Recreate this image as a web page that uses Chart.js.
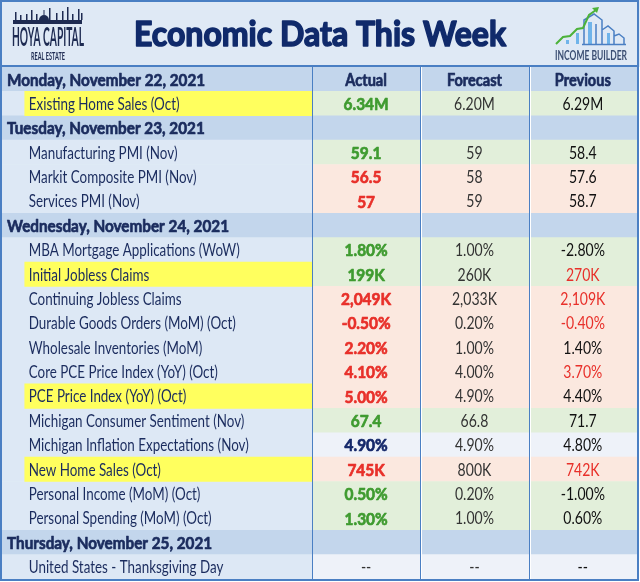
<!DOCTYPE html>
<html>
<head>
<meta charset="utf-8">
<script src="https://cdn.jsdelivr.net/npm/chart.js@4"></script>
<style>
  html, body { margin: 0; padding: 0; background: #fff; }
  canvas { display: block; }
</style>
</head>
<body>
<canvas id="econTable" width="640" height="582"></canvas>
<script>
// table rows, top to bottom
const rowLabels = [
  "Monday, November 22, 2021",
  "Existing Home Sales (Oct)",
  "Tuesday, November 23, 2021",
  "Manufacturing PMI (Nov)",
  "Markit Composite PMI (Nov)",
  "Services PMI (Nov)",
  "Wednesday, November 24, 2021",
  "MBA Mortgage Applications (WoW)",
  "Initial Jobless Claims",
  "Continuing Jobless Claims",
  "Durable Goods Orders (MoM) (Oct)",
  "Wholesale Inventories (MoM)",
  "Core PCE Price Index (YoY) (Oct)",
  "PCE Price Index (YoY) (Oct)",
  "Michigan Consumer Sentiment (Nov)",
  "Michigan Inflation Expectations (Nov)",
  "New Home Sales (Oct)",
  "Personal Income (MoM) (Oct)",
  "Personal Spending (MoM) (Oct)",
  "Thursday, November 25, 2021",
  "United States - Thanksgiving Day"
];
const rowKinds = ["day","item","day","item","item","item","day","item","item","item","item",
  "item","item","item","item","item","item","item","item","day","item"];
const highlighted = [false,true,false,false,false,false,false,false,true,false,false,
  false,false,true,false,false,true,false,false,false,false];
// beat / miss / flat vs forecast
const rowStatus = ["", "up", "", "up", "down", "down", "", "up", "up", "down", "down",
  "down", "down", "down", "up", "flat", "down", "up", "up", "", "flat"];

const columnHeaders = ["Actual", "Forecast", "Previous"];
const actual = ["", "6.34M", "", "59.1", "56.5", "57", "", "1.80%", "199K", "2,049K", "-0.50%",
  "2.20%", "4.10%", "5.00%", "67.4", "4.90%", "745K", "0.50%", "1.30%", "", "--"];
const forecast = ["", "6.20M", "", "59", "58", "59", "", "1.00%", "260K", "2,033K", "0.20%",
  "1.00%", "4.00%", "4.90%", "66.8", "4.90%", "800K", "0.20%", "1.00%", "", "--"];
const previous = ["", "6.29M", "", "58.4", "57.6", "58.7", "", "-2.80%", "270K", "2,109K", "-0.40%",
  "1.40%", "3.70%", "4.40%", "71.7", "4.80%", "742K", "-1.00%", "0.60%", "", "--"];
const previousRed = [false,false,false,false,false,false,false,false,true,true,true,
  false,true,false,false,false,true,false,false,false,false];

// column boundaries in value-column units (label column is wider)
const colEdges = [0, 2.86, 3.86, 4.86, 5.86];
const highlightStart = 0.21;

const navy = "#1b2c5e";
const cellColors = { up: "#e2efda", down: "#fbe8df", flat: "#eef2f9" };
const textColors = { up: "#3f9b30", down: "#e8302a", flat: "#15286a" };
const dayBg = "#c3d6ec";
const labelBg = "#dde8f5";
const lineBlue = "#4a7fc3";
const face = 'Lato, "Open Sans", sans-serif';

function cellColor(i) {
  return rowKinds[i] === "day" ? dayBg : cellColors[rowStatus[i]];
}

function columnData(k) {
  return rowLabels.map(() => [colEdges[k], colEdges[k + 1]]);
}

// horizontal squeeze so a sample string gets the width it has in the picture
function squeeze(ctx, font, sample, width) {
  ctx.font = font;
  return width / ctx.measureText(sample).width;
}

// heavy > 0 thickens the glyphs with a stroke in the same colour
function drawText(ctx, text, x, y, font, sx, align, heavy) {
  ctx.save();
  ctx.font = font;
  ctx.textAlign = align;
  ctx.translate(x, y);
  ctx.scale(sx, 1);
  ctx.fillText(text, 0, 0);
  if (heavy) {
    ctx.strokeStyle = ctx.fillStyle;
    ctx.lineWidth = heavy;
    ctx.lineJoin = "round";
    ctx.strokeText(text, 0, 0);
  }
  ctx.restore();
}

// first dataset is painted last, so the highlight goes first
const datasets = [
  {
    data: highlighted.map(h => h ? [highlightStart, colEdges[1]] : null),
    backgroundColor: "#ffff5e"
  },
  {
    data: columnData(0),
    backgroundColor: rowKinds.map(k => k === "day" ? dayBg : labelBg)
  },
  { data: columnData(1), backgroundColor: rowLabels.map((_, i) => cellColor(i)) },
  { data: columnData(2), backgroundColor: rowLabels.map((_, i) => cellColor(i)) },
  { data: columnData(3), backgroundColor: rowLabels.map((_, i) => cellColor(i)) }
];

// title band + logos
const bannerPlugin = {
  id: "banner",
  beforeDraw(chart) {
    const ctx = chart.ctx;
    ctx.save();
    ctx.fillStyle = "#dfe9f5";
    ctx.fillRect(0, 0, 640, 67);
    ctx.textBaseline = "alphabetic";

    ctx.fillStyle = "#102a6b";
    let f = "bold 35px " + face;
    drawText(ctx, "Economic Data This Week", 320, 46, f, squeeze(ctx, f, "Economic Data This Week", 372), "center", 1.6);

    // Hoya Capital logo
    ctx.fillStyle = "#1e2b52";
    ctx.fillRect(13, 20, 69, 4);
    const spires = [[15, 8], [20, 5], [26, 6], [31, 10], [36, 6], [49, 12], [56, 7], [62, 9], [67, 13], [72, 6], [78, 11], [81, 7]];
    spires.forEach(([x, h]) => ctx.fillRect(x, 20 - h, 1.5, h));
    ctx.beginPath();
    ctx.arc(44, 20, 5, Math.PI, 0);
    ctx.fill();
    ctx.fillRect(43.5, 10, 1, 5);
    f = "bold 26px " + face;
    drawText(ctx, "HOYA CAPITAL", 48, 46, f, squeeze(ctx, f, "HOYA CAPITAL", 72), "center");
    f = "bold 12px " + face;
    drawText(ctx, "REAL ESTATE", 48, 60, f, squeeze(ctx, f, "REAL ESTATE", 34), "center");

    // Income Builder logo
    ctx.fillStyle = "#6fb4ea";
    ctx.fillRect(566, 40, 3, 4);
    ctx.fillRect(576, 33, 3, 11);
    ctx.fillRect(588, 22, 4, 22);
    ctx.fillRect(607, 33, 3, 11);
    ctx.strokeStyle = "#4a7fc3";
    ctx.lineWidth = 1.5;
    ctx.beginPath();
    ctx.moveTo(584, 44); ctx.lineTo(584, 20); ctx.lineTo(594, 14); ctx.lineTo(602, 20); ctx.lineTo(602, 44);
    ctx.moveTo(596, 44); ctx.lineTo(596, 24);
    ctx.moveTo(602, 30); ctx.lineTo(608, 26); ctx.lineTo(614, 31); ctx.lineTo(614, 44);
    ctx.moveTo(614, 36); ctx.lineTo(619, 34); ctx.lineTo(624, 38); ctx.lineTo(624, 44);
    ctx.moveTo(582, 44.5); ctx.lineTo(626, 44.5);
    ctx.stroke();
    ctx.strokeStyle = "#4cb23a";
    ctx.lineWidth = 2;
    ctx.beginPath();
    ctx.moveTo(556, 44); ctx.lineTo(563, 37); ctx.lineTo(570, 36); ctx.lineTo(577, 29);
    ctx.lineTo(583, 28); ctx.lineTo(589, 15); ctx.lineTo(596, 10);
    ctx.stroke();
    ctx.fillStyle = "#4cb23a";
    ctx.beginPath();
    ctx.moveTo(599, 7); ctx.lineTo(592, 8); ctx.lineTo(597, 13); ctx.closePath();
    ctx.fill();
    ctx.fillStyle = "#3c4f73";
    f = "bold 13px " + face;
    drawText(ctx, "INCOME BUILDER", 591, 60, f, squeeze(ctx, f, "INCOME BUILDER", 72), "center");
    ctx.restore();
  }
};

// cell texts, grid lines and border
const cellTextPlugin = {
  id: "cellText",
  afterDatasetsDraw(chart) {
    const ctx = chart.ctx;
    const xs = chart.scales.x;
    const ys = chart.scales.y;
    const area = chart.chartArea;
    const centers = [1, 2, 3].map(k => xs.getPixelForValue((colEdges[k] + colEdges[k + 1]) / 2));

    const dayFont = "bold 17px " + face;
    const headFont = "bold 16.5px " + face;
    const labelFont = "16.5px " + face;
    const actualFont = "bold 17px " + face;
    const valueFont = "16.5px " + face;
    const sDay = squeeze(ctx, dayFont, "Wednesday, November 24, 2021", 222);
    const sHead = squeeze(ctx, headFont, "Forecast", 55);
    const sLabel = squeeze(ctx, labelFont, "MBA Mortgage Applications (WoW)", 211);
    const sActual = squeeze(ctx, actualFont, "2,049K", 50);
    const sValue = squeeze(ctx, valueFont, "2,033K", 45);

    ctx.save();
    ctx.textBaseline = "middle";

    rowLabels.forEach((label, i) => {
      const y = ys.getPixelForValue(i) + 1;
      if (rowKinds[i] === "day") {
        ctx.fillStyle = navy;
        drawText(ctx, label, xs.getPixelForValue(0) + 5, y, dayFont, sDay, "left", 0.7);
        if (i === 0) {
          columnHeaders.forEach((h, k) => drawText(ctx, h, centers[k], y, headFont, sHead, "center", 0.7));
        }
        return;
      }
      ctx.fillStyle = navy;
      drawText(ctx, label, xs.getPixelForValue(highlightStart) + 4, y, labelFont, sLabel, "left");

      if (actual[i] === "--") {
        ctx.fillStyle = "#333333";
        drawText(ctx, actual[i], centers[0], y, valueFont, sValue, "center");
      } else {
        ctx.fillStyle = textColors[rowStatus[i]];
        drawText(ctx, actual[i], centers[0], y, actualFont, sActual, "center", 0.7);
      }

      ctx.fillStyle = "#333333";
      drawText(ctx, forecast[i], centers[1], y, valueFont, sValue, "center");

      ctx.fillStyle = previousRed[i] ? "#e8302a" : "#111111";
      drawText(ctx, previous[i], centers[2], y, valueFont, sValue, "center");
    });

    // column separators
    [1, 2, 3].forEach(k => {
      const x = Math.round(xs.getPixelForValue(colEdges[k]));
      if (k > 1) {
        ctx.fillStyle = "#ffffff";
        ctx.fillRect(x + 1, area.top, 1, area.bottom - area.top);
      }
      ctx.fillStyle = lineBlue;
      ctx.fillRect(x, area.top, 1, area.bottom - area.top);
    });

    ctx.strokeStyle = lineBlue;
    ctx.lineWidth = 2;
    ctx.beginPath();
    ctx.moveTo(1, 66); ctx.lineTo(639, 66);
    ctx.stroke();
    ctx.strokeRect(1, 1, 637, 579);
    ctx.restore();
  }
};

new Chart(document.getElementById("econTable"), {
  type: "bar",
  data: { labels: rowLabels, datasets: datasets },
  options: {
    indexAxis: "y",
    responsive: false,
    animation: false,
    events: [],
    grouped: false,
    barPercentage: 1,
    categoryPercentage: 1,
    layout: { padding: { top: 67, bottom: 3, left: 2, right: 3 } },
    scales: {
      x: { type: "linear", min: colEdges[0], max: colEdges[4], display: false },
      y: { type: "category", display: false }
    },
    plugins: {
      legend: { display: false },
      tooltip: { enabled: false },
      title: { display: false }
    }
  },
  plugins: [bannerPlugin, cellTextPlugin]
});
</script>
</body>
</html>
